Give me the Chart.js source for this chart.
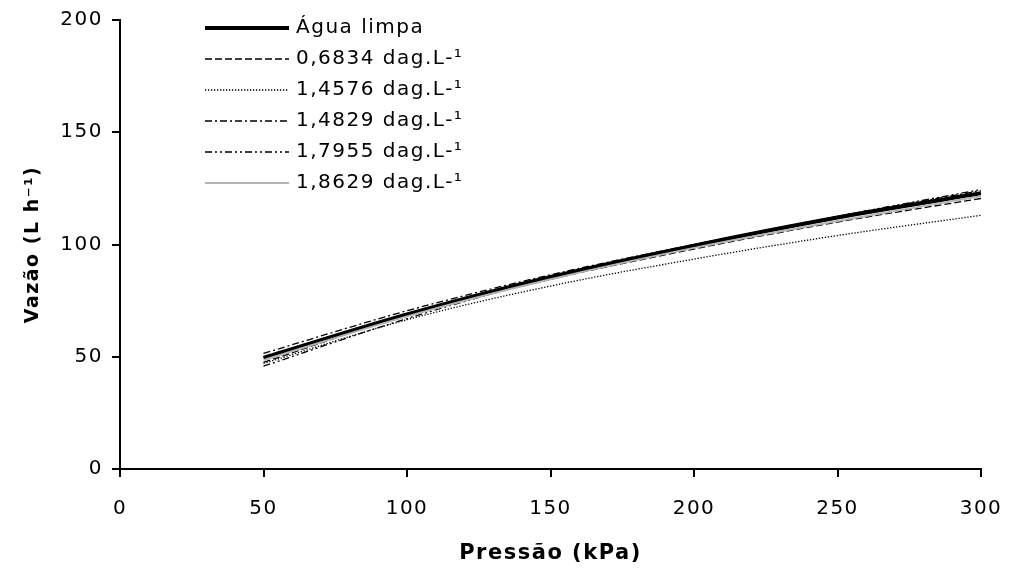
<!DOCTYPE html>
<html>
<head>
<meta charset="utf-8">
<script src="https://cdn.jsdelivr.net/npm/chart.js@4.4.1/dist/chart.umd.min.js"></script>
<style>
html,body{margin:0;padding:0;background:#fff;}
#wrap{width:1010px;height:573px;position:relative;}
</style>
</head>
<body>
<div id="wrap"><canvas id="c" width="1010" height="573"></canvas></div>
<script>
const pressures = [50, 100, 150, 200, 250, 300];
const seriesLabels = ['Água limpa', '0,6834 dag.L-¹', '1,4576 dag.L-¹', '1,4829 dag.L-¹', '1,7955 dag.L-¹', '1,8629 dag.L-¹'];
const aguaLimpa = [49.5, 68.8, 85.5, 99.5, 112.0, 122.8];
const c06834 = [47.5, 68.5, 84.5, 98.0, 110.0, 120.5];
const c14576 = [47.0, 66.5, 81.5, 93.5, 104.0, 113.0];
const c14829 = [51.5, 70.5, 86.5, 100.0, 112.5, 124.0];
const c17955 = [45.8, 67.0, 85.0, 99.5, 112.5, 124.5];
const c18629 = [48.5, 68.0, 84.5, 98.5, 110.5, 121.5];
const xTicks = [0, 50, 100, 150, 200, 250, 300];
const yTicks = [0, 50, 100, 150, 200];

const styles = [
  {color:'#000', width:4, dash:[]},
  {color:'#000', width:1.3, dash:[7,3]},
  {color:'#000', width:1.3, dash:[1.3,1.7]},
  {color:'#000', width:1.3, dash:[7,3,2,3]},
  {color:'#000', width:1.3, dash:[7,3,2,3,2,3]},
  {color:'#b4b4b4', width:2, dash:[]}
];
const values = [aguaLimpa, c06834, c14576, c14829, c17955, c18629];

const datasets = values.map((v, i) => ({
  label: seriesLabels[i],
  data: v.map((y, j) => ({x: pressures[j], y: y})),
  borderColor: styles[i].color,
  borderWidth: styles[i].width,
  borderDash: styles[i].dash,
  pointRadius: 0,
  fill: false,
  cubicInterpolationMode: 'monotone'
})).reverse();

const FONT = '"DejaVu Sans", sans-serif';
const SPACING = '1.5px';

const spacingPlugin = {
  id: 'spacing',
  beforeUpdate(chart) { chart.ctx.letterSpacing = SPACING; },
  beforeLayout(chart) { chart.ctx.letterSpacing = SPACING; },
  beforeDraw(chart) { chart.ctx.letterSpacing = SPACING; }
};

const legendPlugin = {
  id: 'insideLegend',
  afterDraw(chart) {
    const ctx = chart.ctx;
    const ds = chart.data.datasets.slice().reverse();
    const x0 = 205, x1 = 289, tx = 296, y0 = 28, step = 31;
    ds.forEach((d, i) => {
      const y = y0 + i * step;
      ctx.save();
      ctx.strokeStyle = d.borderColor;
      ctx.lineWidth = d.borderWidth;
      ctx.setLineDash(d.borderDash || []);
      ctx.beginPath();
      ctx.moveTo(x0, y);
      ctx.lineTo(x1, y);
      ctx.stroke();
      ctx.restore();
      ctx.save();
      ctx.letterSpacing = SPACING;
      ctx.fillStyle = '#000';
      ctx.font = '20px ' + FONT;
      ctx.textBaseline = 'middle';
      ctx.fillText(d.label, tx, y);
      ctx.restore();
    });
  }
};

new Chart(document.getElementById('c'), {
  type: 'line',
  data: {datasets: datasets},
  options: {
    responsive: false,
    animation: false,
    layout: {padding: {left: 0, right: 29, top: 20, bottom: 0}},
    plugins: {legend: {display: false}, tooltip: {enabled: false}},
    scales: {
      x: {
        type: 'linear', min: 0, max: 300,
        afterBuildTicks: s => { s.ticks = xTicks.map(v => ({value: v})); },
        afterFit: s => { s.height = 104; s.paddingLeft = 0; s.paddingRight = 0; },
        grid: {drawOnChartArea: false, drawTicks: true, tickLength: 8, color: '#000', lineWidth: 2},
        border: {color: '#000', width: 2},
        ticks: {color: '#000', font: {family: FONT, size: 20}, padding: 20, maxRotation: 0},
        title: {display: true, text: 'Pressão (kPa)', color: '#000', font: {family: FONT, size: 21, weight: 'bold'}, padding: {top: 0, bottom: 7}}
      },
      y: {
        type: 'linear', min: 0, max: 200,
        afterBuildTicks: s => { s.ticks = yTicks.map(v => ({value: v})); },
        afterFit: s => { s.width = 120; s.paddingTop = 0; s.paddingBottom = 0; },
        grid: {drawOnChartArea: false, drawTicks: true, tickLength: 8, color: '#000', lineWidth: 2},
        border: {color: '#000', width: 2},
        ticks: {color: '#000', font: {family: FONT, size: 20}, padding: 9},
        title: {display: true, text: 'Vazão (L h⁻¹)', color: '#000', font: {family: FONT, size: 19, weight: 'bold'}, padding: {top: 22, bottom: 0}}
      }
    }
  },
  plugins: [spacingPlugin, legendPlugin]
});
</script>
</body>
</html>
